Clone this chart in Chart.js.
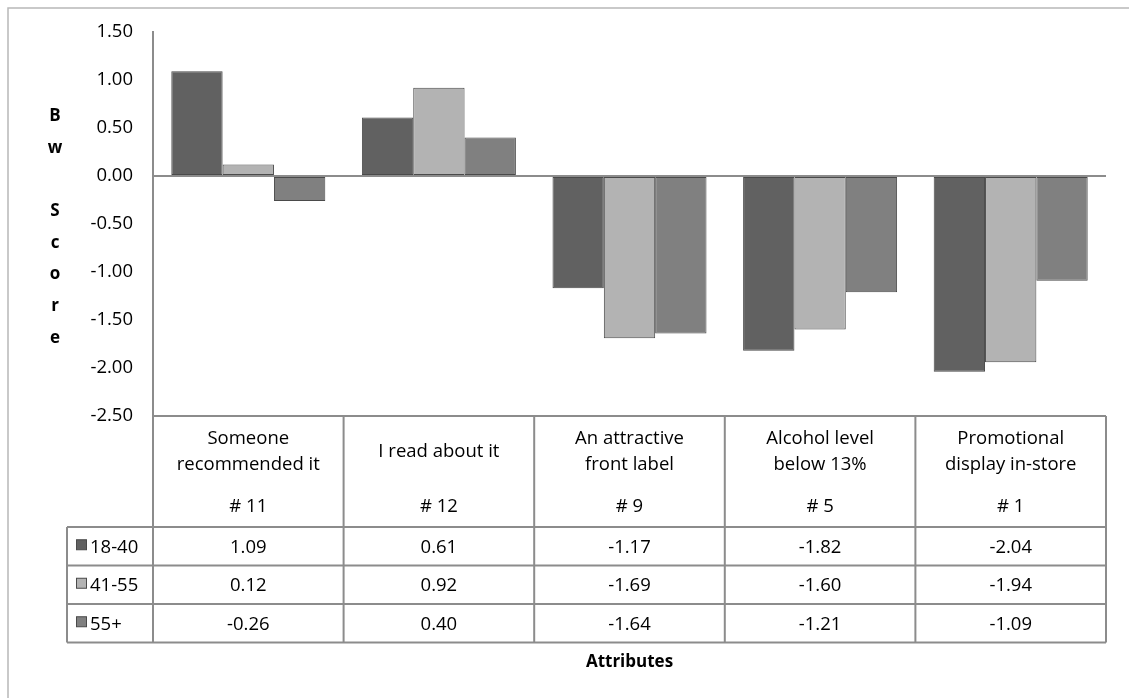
<!DOCTYPE html>
<html>
<head>
<meta charset="utf-8">
<script src="https://cdn.jsdelivr.net/npm/chart.js@4/dist/chart.umd.min.js"></script>
<style>
  html, body { margin: 0; padding: 0; background: #fff; }
  #wrap { width: 1129px; height: 698px; position: relative; }
</style>
</head>
<body>
<div id="wrap"><canvas id="chart" width="1129" height="698"></canvas></div>
<script>
// Attributes (multi-line header text) and their rank labels
const categories = [
  ['Someone', 'recommended it'],
  ['I read about it'],
  ['An attractive', 'front label'],
  ['Alcohol level', 'below 13%'],
  ['Promotional', 'display in-store']
];
const ranks = ['# 11', '# 12', '# 9', '# 5', '# 1'];

// Age groups and their BW scores
const seriesNames = ['18-40', '41-55', '55+'];
const age18to40 = [1.09, 0.61, -1.17, -1.82, -2.04];
const age41to55 = [0.12, 0.92, -1.69, -1.60, -1.94];
const age55plus = [-0.26, 0.40, -1.64, -1.21, -1.09];

// Value axis range and step
const yMin = -2.5;
const yMax = 1.5;
const yStep = 0.5;

const yTitle = 'Bw Score';
const xTitle = 'Attributes';

const FONT = '"Open Sans", "Noto Sans", sans-serif';
const TEXT_SIZE = 18.5;
const FILLS = ['#616161', '#b3b3b3', '#808080'];
const EDGE = '#4a4a4a';
const LINE = '#8c8c8c';

const seriesValues = [age18to40, age41to55, age55plus];

// Data table, axis titles and frame drawn around the plot
const tablePlugin = {
  id: 'dataTable',
  afterDraw(chart) {
    const ctx = chart.ctx;
    const area = chart.chartArea;
    const xs = chart.scales.x;
    const n = categories.length;
    const colW = (area.right - area.left) / n;
    const headTop = area.bottom;
    const headBottom = headTop + 111;
    const rowH = 38.5;
    const tableBottom = headBottom + rowH * seriesNames.length;
    const legendLeft = 67;

    ctx.save();

    // outer frame (top and left edges)
    ctx.strokeStyle = '#b8b8b8';
    ctx.lineWidth = 1.5;
    ctx.beginPath();
    ctx.moveTo(8, chart.height + 2);
    ctx.lineTo(8, 8);
    ctx.lineTo(chart.width + 2, 8);
    ctx.stroke();

    // table grid
    ctx.strokeStyle = LINE;
    ctx.lineWidth = 2;
    ctx.beginPath();
    ctx.moveTo(area.left, headTop);
    ctx.lineTo(area.right, headTop);
    for (let r = 0; r <= seriesNames.length; r++) {
      const y = headBottom + r * rowH;
      ctx.moveTo(legendLeft, y);
      ctx.lineTo(area.right, y);
    }
    ctx.moveTo(legendLeft, headBottom);
    ctx.lineTo(legendLeft, tableBottom);
    for (let i = 0; i <= n; i++) {
      const x = area.left + i * colW;
      ctx.moveTo(x, headTop);
      ctx.lineTo(x, tableBottom);
    }
    ctx.stroke();

    // header text and values
    ctx.fillStyle = '#000';
    ctx.font = TEXT_SIZE + 'px ' + FONT;
    ctx.textAlign = 'center';
    ctx.textBaseline = 'middle';
    categories.forEach((lines, i) => {
      const cx = xs.getPixelForValue(i);
      const lh = 26;
      const y0 = headTop + 36 - (lines.length - 1) * lh / 2;
      lines.forEach((t, k) => ctx.fillText(t, cx, y0 + k * lh));
      ctx.fillText(ranks[i], cx, headTop + 91);
      seriesValues.forEach((vals, s) => {
        ctx.fillText(vals[i].toFixed(2), cx, headBottom + s * rowH + rowH / 2 + 1);
      });
    });

    // legend keys in the first column
    ctx.textAlign = 'left';
    seriesNames.forEach((name, s) => {
      const cy = headBottom + s * rowH + rowH / 2;
      ctx.fillStyle = FILLS[s];
      ctx.fillRect(76.5, cy - 6.5, 10, 10);
      ctx.strokeStyle = EDGE;
      ctx.lineWidth = 1;
      ctx.strokeRect(76.5, cy - 6.5, 10, 10);
      ctx.fillStyle = '#000';
      ctx.fillText(name, 90, cy + 1);
    });

    // horizontal axis title
    ctx.font = 'bold 17px ' + FONT;
    ctx.textAlign = 'center';
    ctx.fillText(xTitle, (area.left + area.right) / 2, tableBottom + 20);

    // vertical axis title, letters stacked
    const letters = yTitle.split('');
    const step = 31.7;
    const midY = (area.top + area.bottom) / 2 + 3;
    const startY = midY - (letters.length - 1) * step / 2;
    letters.forEach((ch, k) => {
      if (ch !== ' ') ctx.fillText(ch, 55, startY + k * step);
    });

    ctx.restore();
  }
};

new Chart(document.getElementById('chart'), {
  type: 'bar',
  data: {
    labels: categories.map(c => c.join(' ')),
    datasets: seriesNames.map((name, s) => ({
      label: name,
      data: seriesValues[s],
      backgroundColor: FILLS[s],
      borderColor: EDGE,
      borderWidth: 1,
      borderSkipped: false,
      barPercentage: 1,
      categoryPercentage: 0.808
    }))
  },
  options: {
    responsive: false,
    animation: false,
    devicePixelRatio: 1,
    layout: { padding: { left: 0, top: 32, right: 23, bottom: 282 } },
    plugins: {
      legend: { display: false },
      tooltip: { enabled: false }
    },
    scales: {
      x: { display: false },
      y: {
        min: yMin,
        max: yMax,
        afterFit(scale) { scale.width = 153; },
        ticks: {
          stepSize: yStep,
          padding: 20,
          color: '#000',
          font: { family: FONT, size: TEXT_SIZE },
          callback: v => Number(v).toFixed(2)
        },
        grid: {
          drawTicks: false,
          lineWidth: 2,
          color: c => (c.tick && c.tick.value === 0) ? LINE : 'rgba(0,0,0,0)'
        },
        border: { display: true, color: LINE, width: 2 }
      }
    }
  },
  plugins: [tablePlugin]
});
</script>
</body>
</html>
